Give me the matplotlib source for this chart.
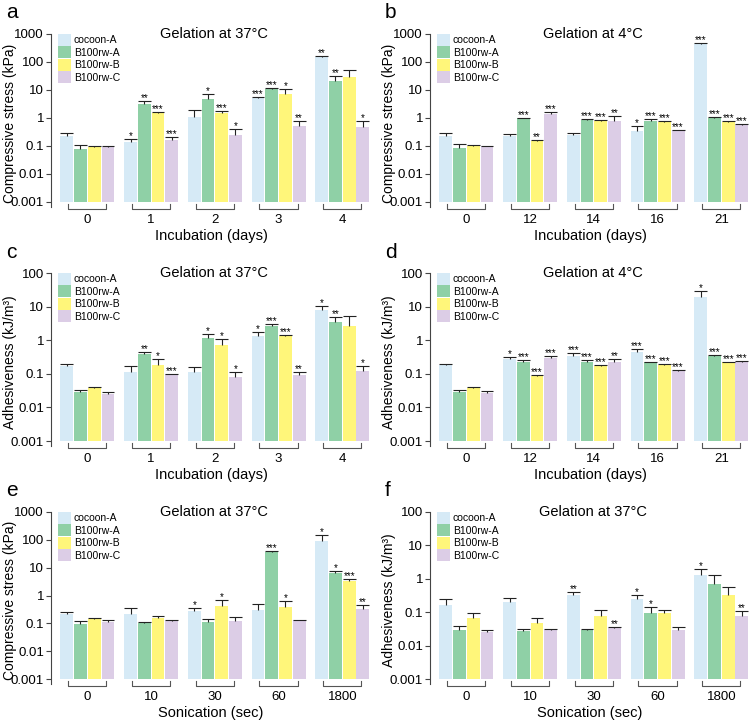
import numpy as np
import matplotlib.pyplot as plt

plt.rcParams['font.family'] = ['Liberation Sans', 'DejaVu Sans']

series = ['cocoon-A', 'B100rw-A', 'B100rw-B', 'B100rw-C']
colors = ['#d6eaf6', '#8fd0a6', '#fff67a', '#dccde6']

# a - compressive stress, 37C
a_groups = ['0', '1', '2', '3', '4']
a_mean = [[0.22, 0.135, 1.09, 5.0, 147],
          [0.078, 3.25, 4.9, 10.9, 21],
          [0.092, 1.5, 1.5, 7.4, 29],
          [0.092, 0.168, 0.254, 0.53, 0.49]]
a_top = [[0.28, 0.178, 1.99, 5.5, 158],
         [0.11, 3.9, 7.2, 12.1, 32.5],
         [0.10, 1.7, 1.78, 10.9, 53],
         [0.10, 0.21, 0.39, 0.76, 0.76]]
a_sig = [['', '*', '', '***', '**'],
         ['', '**', '*', '***', '**'],
         ['', '***', '***', '*', ''],
         ['', '***', '*', '**', '*']]

# b - compressive stress, 4C
b_groups = ['0', '12', '14', '16', '21']
b_mean = [[0.234, 0.22, 0.24, 0.353, 440],
          [0.085, 0.97, 0.83, 0.76, 1.0],
          [0.097, 0.147, 0.81, 0.70, 0.74],
          [0.097, 1.39, 0.77, 0.38, 0.58]]
b_top = [[0.29, 0.27, 0.283, 0.50, 478],
         [0.115, 1.02, 0.90, 0.90, 1.085],
         [0.107, 0.164, 0.85, 0.78, 0.78],
         [0.104, 1.59, 1.15, 0.385, 0.63]]
b_sig = [['', '', '', '*', '***'],
         ['', '***', '***', '***', '***'],
         ['', '**', '***', '***', '***'],
         ['', '***', '**', '***', '***']]

# c - adhesiveness, 37C
c_groups = ['0', '1', '2', '3', '4']
c_mean = [[0.165, 0.117, 0.11, 1.29, 8.0],
          [0.0296, 0.39, 1.15, 2.7, 3.6],
          [0.037, 0.177, 0.71, 1.29, 2.6],
          [0.025, 0.098, 0.079, 0.093, 0.12]]
c_top = [[0.19, 0.165, 0.16, 1.7, 10.6],
         [0.033, 0.44, 1.52, 3.1, 4.8],
         [0.041, 0.28, 1.08, 1.42, 5.1],
         [0.0296, 0.099, 0.117, 0.115, 0.17]]
c_sig = [['', '', '', '*', '*'],
         ['', '**', '*', '***', '**'],
         ['', '*', '*', '***', ''],
         ['', '***', '*', '**', '*']]

# d - adhesiveness, 4C
d_groups = ['0', '12', '14', '16', '21']
d_mean = [[0.18, 0.27, 0.34, 0.46, 19],
          [0.029, 0.23, 0.23, 0.22, 0.33],
          [0.037, 0.087, 0.165, 0.18, 0.22],
          [0.027, 0.29, 0.22, 0.125, 0.22]]
d_top = [[0.195, 0.32, 0.41, 0.56, 30],
         [0.032, 0.25, 0.26, 0.23, 0.37],
         [0.04, 0.093, 0.18, 0.20, 0.225],
         [0.03, 0.34, 0.28, 0.13, 0.235]]
d_sig = [['', '*', '***', '***', '*'],
         ['', '***', '***', '***', '***'],
         ['', '***', '***', '***', '***'],
         ['', '***', '**', '***', '***']]

# e - compressive stress vs sonication
e_groups = ['0', '10', '30', '60', '1800']
e_mean = [[0.21, 0.21, 0.28, 0.29, 89],
          [0.093, 0.10, 0.115, 36, 6.2],
          [0.14, 0.155, 0.42, 0.40, 3.4],
          [0.112, 0.125, 0.12, 0.13, 0.32]]
e_top = [[0.26, 0.35, 0.35, 0.48, 146],
         [0.125, 0.11, 0.14, 40, 7.9],
         [0.155, 0.19, 0.69, 0.62, 3.9],
         [0.13, 0.13, 0.165, 0.135, 0.45]]
e_sig = [['', '', '*', '', '*'],
         ['', '', '', '***', '*'],
         ['', '', '*', '*', '***'],
         ['', '', '', '', '**']]

# f - adhesiveness vs sonication
f_groups = ['0', '10', '30', '60', '1800']
f_mean = [[0.17, 0.2, 0.32, 0.25, 1.26],
          [0.030, 0.027, 0.029, 0.095, 0.72],
          [0.068, 0.046, 0.079, 0.095, 0.32],
          [0.025, 0.030, 0.034, 0.029, 0.079]]
f_top = [[0.257, 0.27, 0.41, 0.32, 2.0],
         [0.038, 0.032, 0.032, 0.14, 1.3],
         [0.095, 0.068, 0.12, 0.12, 0.56],
         [0.029, 0.032, 0.035, 0.035, 0.107]]
f_sig = [['', '', '**', '*', '*'],
         ['', '', '', '*', ''],
         ['', '', '', '', ''],
         ['', '', '**', '', '**']]

W, H = 751, 720
fig = plt.figure(figsize=(W / 100, H / 100), dpi=100)

stress_lab = 'Compressive stress (kPa)'
adh_lab = 'Adhesiveness (kJ/m\u00b3)'
inc_lab = 'Incubation (days)'
son_lab = 'Sonication (sec)'

AXW = 320  # axes width in pixels


def panel(left, top, base, ymax, groups, mean, upper, sig,
          ylabel, xlabel, title, letter, letter_y):
    ndec = np.log10(ymax) + 3
    pxdec = (base - top) / ndec
    ext = 5 / pxdec
    bottom = base + 5
    ax = fig.add_axes([left / W, 1 - bottom / H, AXW / W, (bottom - top) / H])
    ax.set_yscale('log')
    ax.set_ylim(10 ** (-3 - ext), ymax)
    ax.set_xlim(-0.57, 4.45)
    x = np.arange(len(groups))
    for k in range(4):
        xs = x + (k - 1.5) * 0.215
        m = np.array(mean[k])
        u = np.array(upper[k])
        ax.bar(xs, m - 0.001, 0.2, bottom=0.001, color=colors[k],
               label=series[k], zorder=2)
        ax.vlines(xs, m, u, color='#222222', lw=0.8, zorder=3)
        ax.hlines(u, xs - 0.1, xs + 0.1, color='#222222', lw=0.8, zorder=3)
        for xi, ui, s in zip(xs, u, sig[k]):
            if s:
                ax.annotate(s, (xi, ui), xytext=(0, -1.5),
                            textcoords='offset points', ha='center',
                            va='bottom', fontsize=7)
    # group brackets under the axis
    yb = 10 ** (-3 - 7 / pxdec)
    yt = 10 ** (-3 - 2 / pxdec)
    for xi in x:
        ax.plot([xi - 0.3, xi - 0.3, xi + 0.3, xi + 0.3], [yt, yb, yb, yt],
                color='#555555', lw=0.8, clip_on=False)
    ax.set_xticks(x)
    ax.set_xticklabels(groups)
    ax.tick_params(axis='x', length=0, pad=5, labelsize=9.5)
    ticks = [10.0 ** p for p in range(-3, int(np.log10(ymax)) + 1)]
    ax.set_yticks(ticks)
    ax.set_yticklabels(['%g' % t for t in ticks])
    ax.yaxis.set_minor_locator(plt.NullLocator())
    ax.tick_params(axis='y', length=3.5, width=0.8, color='#444444',
                   labelsize=9.5, pad=1.5)
    for s in ['top', 'right', 'bottom']:
        ax.spines[s].set_visible(False)
    ax.spines['left'].set_color('#444444')
    ax.spines['left'].set_linewidth(0.8)
    ax.set_ylabel(ylabel, fontsize=10)
    ax.yaxis.set_label_coords((17 - left % 379) / AXW,
                              ((base + top) / 2 - top) / (bottom - top))
    ax.set_xlabel(xlabel, fontsize=10.5, labelpad=2)
    ax.text(0.51, 1.0, title, transform=ax.transAxes, ha='center',
            va='center', fontsize=10.5)
    ax.legend(loc='upper left', bbox_to_anchor=(0.022, 1.0), frameon=False,
              fontsize=7.5, handlelength=1.25, handleheight=1.38,
              labelspacing=0.05, handletextpad=0.25, borderpad=0,
              borderaxespad=0)
    fig.text((left - 45) / W, 1 - letter_y / H, letter, fontsize=15,
             ha='left', va='center')
    return ax


panel(51, 34, 202, 1000, a_groups, a_mean, a_top, a_sig,
      stress_lab, inc_lab, 'Gelation at 37\u00b0C', 'a', 13)
panel(430, 34, 202, 1000, b_groups, b_mean, b_top, b_sig,
      stress_lab, inc_lab, 'Gelation at 4\u00b0C', 'b', 13)
panel(51, 273, 441, 100, c_groups, c_mean, c_top, c_sig,
      adh_lab, inc_lab, 'Gelation at 37\u00b0C', 'c', 252)
panel(430, 273, 441, 100, d_groups, d_mean, d_top, d_sig,
      adh_lab, inc_lab, 'Gelation at 4\u00b0C', 'd', 252)
panel(51, 512, 679, 1000, e_groups, e_mean, e_top, e_sig,
      stress_lab, son_lab, 'Gelation at 37\u00b0C', 'e', 490)
panel(430, 512, 679, 100, f_groups, f_mean, f_top, f_sig,
      adh_lab, son_lab, 'Gelation at 37\u00b0C', 'f', 490)

plt.savefig('out.png', dpi=100)
